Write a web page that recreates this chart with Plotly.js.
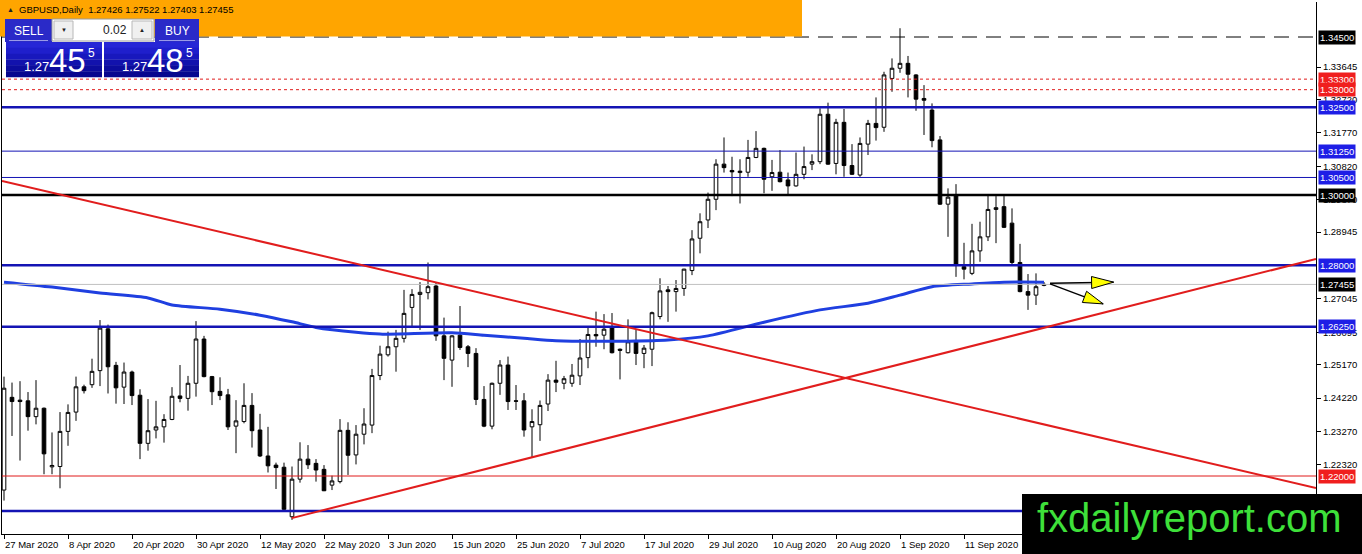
<!DOCTYPE html>
<html><head><meta charset="utf-8">
<script src="https://cdn.plot.ly/plotly-3.0.1.min.js"></script>
<style>html,body{margin:0;padding:0;background:#fff;overflow:hidden}#chart{width:1362px;height:554px}</style>
</head><body><div id="chart"></div>
<script>
// ---------- DATA ----------
const symbolHeader = "GBPUSD,Daily  1.27426 1.27522 1.27403 1.27455";
const tickLabels = ["27 Mar 2020","8 Apr 2020","20 Apr 2020","30 Apr 2020","12 May 2020","22 May 2020","3 Jun 2020","15 Jun 2020","25 Jun 2020","7 Jul 2020","17 Jul 2020","29 Jul 2020","10 Aug 2020","20 Aug 2020","1 Sep 2020","11 Sep 2020"];
const tickBars = [0,8,16,24,32,40,48,56,64,72,80,88,96,104,112,120];

const opens = [1.2160,1.2424,1.2416,1.2414,1.2369,1.2393,1.2226,1.2227,1.2327,1.2382,
1.2454,1.2460,1.2500,1.2619,1.2515,1.2453,1.2496,1.2430,1.2293,1.2331,
1.2340,1.2361,1.2428,1.2421,1.2464,1.2590,1.2483,1.2441,1.2431,1.2342,
1.2355,1.2401,1.2331,1.2257,1.2231,1.2225,1.2084,1.2191,1.2248,1.2236,
1.2219,1.2174,1.2184,1.2330,1.2260,1.2319,1.2345,1.2486,1.2545,1.2568,
1.2592,1.2680,1.2717,1.2722,1.2741,1.2599,1.2530,1.2601,1.2568,1.2549,
1.2418,1.2342,1.2464,1.2516,1.2414,1.2414,1.2340,1.2346,1.2405,1.2473,
1.2464,1.2464,1.2485,1.2537,1.2603,1.2601,1.2623,1.2561,1.2551,1.2582,
1.2549,1.2561,1.2654,1.2730,1.2725,1.2734,1.2785,1.2877,1.2929,1.2988,
1.3088,1.3070,1.3064,1.3065,1.3107,1.3133,1.3052,1.3065,1.3043,1.3026,
1.3059,1.3088,1.3095,1.3230,1.3090,1.3207,1.3084,1.3057,1.3145,1.3204,
1.3193,1.3332,1.3361,1.3375,1.3342,1.3275,1.3242,1.3157,1.2974,1.3000,
1.2796,1.2777,1.2841,1.2881,1.2959,1.2967,1.2920,1.2808,1.2725,1.2715,
1.27426];
const highs = [1.2483,1.2466,1.2470,1.2439,1.2473,1.2395,1.2324,1.2382,1.2404,1.2483,
1.2460,1.2534,1.2644,1.2631,1.2525,1.2523,1.2500,1.2447,1.2419,1.2414,
1.2376,1.2453,1.2516,1.2485,1.2641,1.2599,1.2485,1.2481,1.2448,1.2416,
1.2464,1.2436,1.2377,1.2340,1.2238,1.2238,1.2227,1.2296,1.2288,1.2248,
1.2231,1.2201,1.2362,1.2353,1.2345,1.2393,1.2505,1.2571,1.2611,1.2616,
1.2730,1.2732,1.2752,1.2808,1.2752,1.2651,1.2601,1.2684,1.2573,1.2564,
1.2456,1.2466,1.2530,1.2540,1.2459,1.2436,1.2390,1.2415,1.2490,1.2528,
1.2485,1.2519,1.2590,1.2623,1.2668,1.2661,1.2664,1.2563,1.2646,1.2616,
1.2573,1.2668,1.2763,1.2741,1.2758,1.2790,1.2900,1.2948,1.3007,1.3102,
1.3164,1.3109,1.3102,1.3157,1.3182,1.3135,1.3100,1.3128,1.3064,1.3121,
1.3138,1.3116,1.3247,1.3263,1.3217,1.3245,1.3145,1.3164,1.3214,1.3278,
1.3351,1.3389,1.3475,1.3396,1.3344,1.3313,1.3261,1.3168,1.3019,1.3031,
1.2864,1.2918,1.2924,1.3003,1.2997,1.2997,1.2962,1.2861,1.2775,1.2777,
1.27522];
const lows = [1.2130,1.2314,1.2244,1.2329,1.2347,1.2205,1.2205,1.2165,1.2286,1.2357,
1.2435,1.2451,1.2456,1.2435,1.2406,1.2405,1.2402,1.2248,1.2272,1.2307,
1.2295,1.2359,1.2410,1.2386,1.2426,1.2481,1.2402,1.2416,1.2331,1.2265,
1.2350,1.2281,1.2254,1.2210,1.2163,1.2101,1.2075,1.2181,1.2220,1.2184,
1.2157,1.2160,1.2179,1.2203,1.2233,1.2290,1.2322,1.2473,1.2540,1.2497,
1.2580,1.2627,1.2616,1.2703,1.2585,1.2473,1.2454,1.2559,1.2510,1.2402,
1.2339,1.2333,1.2431,1.2388,1.2388,1.2312,1.2253,1.2300,1.2385,1.2439,
1.2447,1.2454,1.2459,1.2507,1.2568,1.2561,1.2549,1.2475,1.2549,1.2516,
1.2507,1.2513,1.2646,1.2639,1.2668,1.2713,1.2772,1.2834,1.2906,1.2957,
1.3064,1.2997,1.2976,1.3052,1.3105,1.3005,1.3012,1.3036,1.3000,1.3024,
1.3045,1.3071,1.3088,1.3086,1.3059,1.3052,1.3057,1.3052,1.3114,1.3155,
1.3180,1.3294,1.3348,1.3278,1.3240,1.3171,1.3136,1.2972,1.2881,1.2767,
1.2760,1.2772,1.2810,1.2869,1.2863,1.2906,1.2801,1.2723,1.2673,1.2687,
1.27403];
const closes = [1.2450,1.2412,1.2412,1.2369,1.2393,1.2263,1.2230,1.2327,1.2381,1.2454,
1.2443,1.2498,1.2621,1.2511,1.2451,1.2496,1.2429,1.2293,1.2329,1.2340,
1.2361,1.2427,1.2421,1.2464,1.2590,1.2483,1.2440,1.2429,1.2340,1.2357,
1.2401,1.2329,1.2257,1.2229,1.2224,1.2105,1.2191,1.2248,1.2232,1.2217,
1.2158,1.2186,1.2330,1.2259,1.2319,1.2348,1.2486,1.2547,1.2568,1.2592,
1.2663,1.2717,1.2723,1.2739,1.2599,1.2535,1.2599,1.2566,1.2549,1.2418,
1.2342,1.2464,1.2516,1.2412,1.2413,1.2331,1.2355,1.2401,1.2473,1.2467,
1.2477,1.2487,1.2536,1.2603,1.2599,1.2618,1.2551,1.2558,1.2582,1.2549,
1.2564,1.2665,1.2727,1.2725,1.2734,1.2789,1.2875,1.2924,1.2988,1.3088,
1.3078,1.3066,1.3068,1.3107,1.3133,1.3045,1.3064,1.3038,1.3026,1.3059,
1.3081,1.3095,1.3230,1.3088,1.3207,1.3084,1.3059,1.3147,1.3204,1.3192,
1.3342,1.3361,1.3375,1.3344,1.3273,1.3270,1.3155,1.2974,1.2994,1.2801,
1.2789,1.2841,1.2881,1.2959,1.2964,1.2908,1.2808,1.2725,1.2715,1.2739,
1.27455];

// moving average (thick blue), sampled at bar positions
const maBars = [0,6,12,18,21,27,32,36,39,44,47,56,60,65,69,78,83,88,95,102,108,112,116,121,125,130];
const maVals = [1.2752,1.2738,1.2721,1.2707,1.2687,1.2675,1.2658,1.2639,1.2623,1.2609,1.2604,1.2608,1.2601,1.2592,1.2585,1.2584,1.2587,1.2599,1.2638,1.2673,1.2692,1.2715,1.2739,1.2747,1.2752,1.2752];

// horizontal levels
const levelPrices = [1.34500,1.33300,1.33000,1.32500,1.31250,1.30500,1.30000,1.28000,1.27455,1.26250,1.22000,1.21000];
const levelColors = ["#000000","#e01b1b","#e01b1b","#1414b4","#1414b4","#1414b4","#000000","#1414b4","#c0c0c0","#1414b4","#e01b1b","#1414b4"];
const levelWidths = [1,1,1,2.5,1,1,2.5,2.5,1,2.5,1,2.5];
const levelDash = ["15px,9px","3px,3px","3px,3px","solid","solid","solid","solid","solid","solid","solid","solid","solid"];
const levelLabelBg = ["#000000","#f01e1e","#f01e1e","#1e1ee6","#1e1ee6","#1e1ee6","#000000","#1e1ee6","#000000","#1e1ee6","#f01e1e",null];

// price-scale ticks (the ones fully hidden under level labels are left out)
const yTicks = [1.33645,1.32720,1.31770,1.30820,1.29870,1.28945,1.27045,1.26095,1.25170,1.24220,1.23270,1.22320,1.21370];

// trendlines [bar0, price0, bar1, price1]
const trendDown = [-0.25,1.3040,164.0,1.2166];
const trendUp = [35.96,1.2080,164.0,1.2818];
// arrows [barStart, priceStart, barTip, priceTip]
const arrowFlat = [130.75,1.2749,138.7,1.2752];
const arrowDown = [130.75,1.2747,137.4,1.2690];

// trade panel
const sellPrice = ["1.27","45","5"];
const buyPrice = ["1.27","48","5"];
const lotSize = "0.02";
const watermark = "fxdailyreport.com";

// ---------- GEOMETRY ----------
const WID=1362, HEI=554, ML=2, MR=46, MT=2, MB=20;
const PW=WID-ML-MR, PH=HEI-MT-MB;
const barPx = 8;
const xR = [-0.25, -0.25 + PW/barPx];
const pxPerUnit = 3512;
const yTop = 1.345 + (37-MT)/pxPerUnit;
const yR = [yTop - PH/pxPerUnit, yTop];
const FONT = "Liberation Sans, Arial, sans-serif";

function px(x){return (x-ML)/PW;}
function py(y){return 1-(y-MT)/PH;}
function toPx(b,p){return [ML+(b-xR[0])*barPx, MT+(yR[1]-p)*pxPerUnit];}
function toData(X,Y){return [xR[0]+(X-ML)/barPx, yR[1]-(Y-MT)/pxPerUnit];}

const idx = opens.map((_,i)=>i);
const shapes = [];
const annotations = [];

levelPrices.forEach((p,i)=>{
  shapes.push({type:'line',xref:'paper',yref:'y',x0:0,x1:1,y0:p,y1:p,layer:'above',
    line:{color:levelColors[i],width:levelWidths[i],dash:levelDash[i]}});
});
[trendDown,trendUp].forEach(t=>{
  shapes.push({type:'line',xref:'x',yref:'y',x0:t[0],y0:t[1],x1:t[2],y1:t[3],layer:'above',
    line:{color:'#e11d1d',width:2}});
});
function arrow(a,len,hw){
  const s=toPx(a[0],a[1]), t=toPx(a[2],a[3]);
  const dx=t[0]-s[0], dy=t[1]-s[1], L=Math.hypot(dx,dy);
  const ux=dx/L, uy=dy/L, nx=-uy, ny=ux;
  const bx=t[0]-ux*len, by=t[1]-uy*len;
  const p1=toData(bx+nx*hw,by+ny*hw), p2=toData(bx-nx*hw,by-ny*hw);
  shapes.push({type:'line',xref:'x',yref:'y',x0:a[0],y0:a[1],x1:a[2],y1:a[3],layer:'above',line:{color:'#000',width:1.5}});
  shapes.push({type:'path',xref:'x',yref:'y',layer:'above',
    path:`M ${a[2]} ${a[3]} L ${p1[0]} ${p1[1]} L ${p2[0]} ${p2[1]} Z`,
    fillcolor:'#ffff00',line:{color:'#000',width:1}});
}
arrow(arrowFlat,22,6);
arrow(arrowDown,20,6);

function rect(x0,y0,x1,y1,fill,lineColor){
  shapes.push({type:'rect',xref:'paper',yref:'paper',x0:px(x0),x1:px(x1),y0:py(y1),y1:py(y0),
    layer:'above',fillcolor:fill,line:{color:lineColor||fill,width:lineColor?1:0}});
}
function text(x,y,t,size,color,xa,ya){
  annotations.push({xref:'paper',yref:'paper',x:px(x),y:py(y),text:t,showarrow:false,
    xanchor:xa||'center',yanchor:ya||'middle',
    font:{family:FONT,size:size,color:color}});
}

rect(0,0,802,36.5,'#ffa500');
text(5,9.5,'▲',7,'#222','left');
text(17,9.5,symbolHeader,9.5,'#000','left');

rect(5,19,52,42,'#2a2ac8');
rect(155,19,199,42,'#2a2ac8');
shapes.push({type:'line',xref:'paper',yref:'paper',x0:px(9),x1:px(48),y0:py(40.5),y1:py(40.5),layer:'above',line:{color:'#9a9ae8',width:1}});
shapes.push({type:'line',xref:'paper',yref:'paper',x0:px(159),x1:px(195),y0:py(40.5),y1:py(40.5),layer:'above',line:{color:'#9a9ae8',width:1}});
rect(52,19,154,41,'#ffffff','#9a9a9a');
rect(54,21,73,39,'#f0f0f0','#b8b8b8');
rect(132,21,152,39,'#f0f0f0','#b8b8b8');
text(63.5,30,'▼',6,'#222');
text(142,30,'▲',6,'#222');
text(129,30,lotSize,12,'#222','right');
text(28.5,30.5,'SELL',12,'#fff');
text(177,30.5,'BUY',12,'#fff');
const bands=['#2626d6','#1f1fcc','#1818bd','#1212ad','#0c0c9d','#07078f'];
bands.forEach((c,i)=>{
  const h=35/bands.length, y0=42+i*h, y1=y0+h+0.3;
  rect(6,y0,102,y1,c);
  rect(104,y0,199,y1,c);
});
function priceBox(x,parts){
  text(x+16,66.5,parts[0],13,'#fff','left');
  text(x+41,61,parts[1],33,'#fff','left');
  text(x+80,52.5,parts[2],12,'#fff','left');
}
priceBox(6,sellPrice);
priceBox(104,buyPrice);

levelPrices.forEach((p,i)=>{
  if(!levelLabelBg[i]) return;
  annotations.push({xref:'paper',yref:'y',x:1,y:p,xanchor:'left',yanchor:'middle',xshift:2,
    text:p.toFixed(5),showarrow:false,bgcolor:levelLabelBg[i],borderpad:1,
    font:{family:FONT,size:9.5,color:'#fff'}});
});

tickBars.forEach((b,i)=>{
  annotations.push({xref:'x',yref:'paper',x:b,y:0,xanchor:'left',yanchor:'top',xshift:-1,yshift:-3,
    text:tickLabels[i],showarrow:false,font:{family:FONT,size:9.5,color:'#000'}});
});

rect(1022,494,1362,554,'#000000');
text(1189,518,watermark,40,'#3ee03a');

const traces = [
  {type:'candlestick',x:idx,open:opens,high:highs,low:lows,close:closes,
   increasing:{line:{color:'#000',width:1},fillcolor:'#ffffff'},
   decreasing:{line:{color:'#000',width:1},fillcolor:'#000000'},
   whiskerwidth:0,hoverinfo:'skip',showlegend:false},
  {type:'scatter',mode:'lines',x:maBars,y:maVals,line:{color:'#1f3fe0',width:3,shape:'spline',smoothing:0.7},
   hoverinfo:'skip',showlegend:false}
];

const layout = {
  width:WID,height:HEI,margin:{l:ML,r:MR,t:MT,b:MB,pad:0},
  paper_bgcolor:'#ffffff',plot_bgcolor:'#ffffff',showlegend:false,
  boxgap:0.35,
  xaxis:{range:xR,type:'linear',rangeslider:{visible:false},showgrid:false,zeroline:false,
    showline:true,linecolor:'#000',linewidth:1,tickvals:tickBars,ticks:'outside',ticklen:4,tickcolor:'#000',
    showticklabels:false,fixedrange:true,automargin:false},
  yaxis:{range:yR,side:'right',showgrid:false,zeroline:false,showline:true,linecolor:'#000',linewidth:1,mirror:true,
    tickvals:yTicks,ticktext:yTicks.map(v=>v.toFixed(5)),ticks:'outside',ticklen:4,tickcolor:'#000',
    tickfont:{family:FONT,size:9.5,color:'#000'},fixedrange:true,automargin:false},
  shapes:shapes,annotations:annotations,hovermode:false
};
Plotly.newPlot('chart',traces,layout,{staticPlot:true,displayModeBar:false});
</script></body></html>
